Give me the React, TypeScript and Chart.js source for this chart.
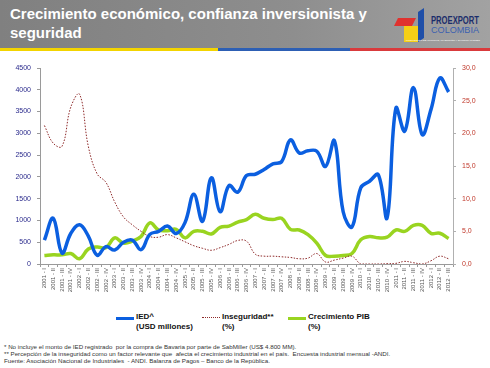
import React, { useEffect, useRef } from "react";
import { Chart, registerables } from "chart.js";
Chart.register(...registerables);

const FONT = "'Liberation Sans', Arial, sans-serif";

const quarters = [
  "2001 - I", "2001 - II", "2001 - III", "2001 - IV",
  "2002 - I", "2002 - II", "2002 - III", "2002 - IV",
  "2003 - I", "2003 - II", "2003 - III", "2003 - IV",
  "2004 - I", "2004 - II", "2004 - III", "2004 - IV",
  "2005 - I", "2005 - II", "2005 - III", "2005 - IV",
  "2006 - I", "2006 - II", "2006 - III", "2006 - IV",
  "2007 - I", "2007 - II", "2007 - III", "2007 - IV",
  "2008 - I", "2008 - II", "2008 - III", "2008 - IV",
  "2009 - I", "2009 - II", "2009 - III", "2009 - IV",
  "2010 - I", "2010 - II", "2010 - III", "2010 - IV",
  "2011 - I", "2011 - II", "2011 - III", "2011 - IV",
  "2012 - I", "2012 - II", "2012 - III",
];

const iedValues = [
  550, 1050, 250, 700, 900, 640, 200, 400, 320, 500, 550, 330,
  680, 750, 870, 700, 950, 1600, 980, 1980, 1200, 1800, 1650, 2030,
  2060, 2170, 2300, 2350, 2850, 2550, 2600, 2590, 2240, 2830, 1200, 850,
  1750, 1900, 2050, 1060, 3580, 3050, 4050, 2970, 3550, 4270, 3950,
];

const insecurityValues = [
  21.2, 18.5, 18.0, 24.0, 26.0, 18.0, 13.8, 12.5, 9.5, 7.2, 6.0, 5.0,
  4.2, 4.1, 4.5, 4.0, 3.4, 2.8, 2.4, 2.1, 2.5, 3.0, 3.6, 3.5,
  1.5, 1.2, 1.2, 1.1, 1.0, 0.8, 0.9, 1.6, 0.3, 0.6, 0.9, 1.2,
  0.0, 0.0, 0.0, 0.05, 0.1, 0.4, 0.2, 0.0, 0.5, 1.2, 0.8,
];

const gdpGrowthValues = [
  1.3, 1.4, 1.4, 1.6, 0.8, 2.3, 2.6, 2.5, 4.0, 3.2, 3.5, 4.2,
  6.3, 5.2, 5.1, 5.3, 4.0, 5.0, 5.0, 4.6, 5.6, 5.8, 6.4, 6.8,
  7.6, 7.0, 6.8, 7.0, 5.3, 5.2, 4.5, 3.2, 1.3, 1.2, 1.3, 1.6,
  3.7, 4.2, 4.0, 4.1, 5.2, 5.0, 5.9, 5.9, 4.7, 4.7, 3.9,
];

const seriesLegend = [
  { name: "IED^", unit: "(USD millones)", color: "#0b5fe0", dash: false, width: 3 },
  { name: "Inseguridad**", unit: "(%)", color: "#8e2a2a", dash: true, width: 1 },
  { name: "Crecimiento PIB", unit: "(%)", color: "#99d420", dash: false, width: 3 },
];

const footnotes = [
  "* No incluye el monto de IED registrado  por la compra de Bavaria por parte de SabMiller (US$ 4.800 MM).",
  "** Percepción de la inseguridad como un factor relevante que  afecta el crecimiento industrial en el país.  Encuesta industrial mensual -ANDI.",
  "Fuente: Asociación Nacional de Industriales  - ANDI. Balanza de Pagos – Banco de la República.",
];

export default function App() {
  const ref = useRef<HTMLCanvasElement>(null);

  useEffect(() => {
    const chart = new Chart(ref.current as HTMLCanvasElement, {
      type: "line",
      data: {
        labels: quarters,
        datasets: [
          {
            label: seriesLegend[0].name,
            data: iedValues,
            borderColor: seriesLegend[0].color,
            borderWidth: 3.5,
            yAxisID: "y",
            pointRadius: 0,
            tension: 0.4,
            fill: false,
          },
          {
            label: seriesLegend[1].name,
            data: insecurityValues,
            borderColor: seriesLegend[1].color,
            borderWidth: 1,
            borderDash: [1.5, 1.5],
            yAxisID: "y1",
            pointRadius: 0,
            tension: 0.4,
            fill: false,
          },
          {
            label: seriesLegend[2].name,
            data: gdpGrowthValues,
            borderColor: seriesLegend[2].color,
            borderWidth: 3.5,
            yAxisID: "y1",
            pointRadius: 0,
            tension: 0.4,
            fill: false,
          },
        ],
      },
      options: {
        animation: false,
        responsive: false,
        maintainAspectRatio: false,
        layout: { padding: { top: 13, left: 0, right: 0, bottom: 0 } },
        plugins: { legend: { display: false }, tooltip: { enabled: false } },
        scales: {
          x: {
            offset: true,
            grid: { offset: true, drawOnChartArea: false, tickLength: 3, color: "#9a9a9a" },
            border: { color: "#9a9a9a" },
            ticks: {
              autoSkip: false,
              maxRotation: 90,
              minRotation: 90,
              padding: 1,
              color: "#555555",
              font: { size: 6, family: FONT },
            },
            afterFit: (s: any) => {
              s.height = 46;
            },
          },
          y: {
            position: "left",
            min: 0,
            max: 4500,
            grid: { drawOnChartArea: false, tickLength: 3, color: "#9a9a9a" },
            border: { color: "#9a9a9a" },
            ticks: {
              stepSize: 500,
              padding: 6,
              color: "#2a2a8c",
              font: { size: 7, family: FONT },
              callback: (v: any) => String(v),
            },
            afterFit: (s: any) => {
              s.width = 40;
            },
          },
          y1: {
            position: "right",
            min: 0,
            max: 30,
            grid: { drawOnChartArea: false, tickLength: 3, color: "#b0b0b0" },
            border: { color: "#b0b0b0" },
            ticks: {
              stepSize: 5,
              padding: 6,
              color: "#c0392b",
              font: { size: 7, family: FONT },
              callback: (v: any) => Number(v).toFixed(1).replace(".", ","),
            },
            afterFit: (s: any) => {
              s.width = 37;
            },
          },
        },
      },
    });
    return () => chart.destroy();
  }, []);

  return (
    <div
      style={{
        position: "absolute",
        left: 0,
        top: 0,
        width: 490,
        height: 368,
        background: "#ffffff",
        overflow: "hidden",
        fontFamily: FONT,
      }}
    >
      {/* Title bar */}
      <div
        style={{
          position: "absolute",
          left: 0,
          top: 0,
          width: 490,
          height: 48,
          background: "linear-gradient(to right, #808080 0%, #8e8e8e 60%, #a2a2a2 100%)",
        }}
      />
      <div
        style={{
          position: "absolute",
          left: 10,
          top: 4,
          color: "#ffffff",
          fontWeight: "bold",
          fontSize: 15,
          lineHeight: "19px",
          fontFamily: FONT,
        }}
      >
        Crecimiento económico, confianza inversionista y
        <br />
        seguridad
      </div>
      {/* Logo */}
      <svg
        style={{ position: "absolute", left: 394, top: 6 }}
        width={90}
        height={38}
        viewBox="0 0 90 38"
      >
        <polygon points="4,12 22,12 18,20 0,20" fill="#e0322f" />
        <polygon points="10,20 24,20 24,36 10,36" fill="#f5cf16" />
        <polygon points="24,6 30,2 30,32 24,36" fill="#1f4fa8" />
        <text x="37" y="18" fontFamily={FONT} fontWeight="bold" fontSize="10" fill="#1b2d6b" textLength="48" lengthAdjust="spacingAndGlyphs">
          PROEXPORT
        </text>
        <text x="37" y="27" fontFamily={FONT} fontSize="8.5" fill="#3b5fb0" textLength="48" lengthAdjust="spacingAndGlyphs">
          COLOMBIA
        </text>
        <text x="12" y="34.5" fontFamily={FONT} fontSize="2.5" fill="#ffffff" textLength="74" lengthAdjust="spacingAndGlyphs">
          PROMOCIÓN DE TURISMO, INVERSIÓN Y EXPORTACIONES
        </text>
      </svg>
      {/* Stripes */}
      <div style={{ position: "absolute", left: 0, top: 48, width: 218, height: 3, background: "#f3d400" }} />
      <div style={{ position: "absolute", left: 218, top: 48, width: 132, height: 3, background: "#2d5fb4" }} />
      <div style={{ position: "absolute", left: 350, top: 48, width: 140, height: 3, background: "#d93a3c" }} />

      {/* Chart */}
      <canvas
        ref={ref}
        width={490}
        height={255}
        style={{ position: "absolute", left: 0, top: 55, width: 490, height: 255, display: "block" }}
      />

      {/* Legend */}
      <div
        style={{
          position: "absolute",
          left: 0,
          top: 312,
          width: 490,
          display: "flex",
          justifyContent: "center",
        }}
      >
        {seriesLegend.map((s) => (
          <div key={s.name} style={{ width: 86, display: "flex", alignItems: "flex-start" }}>
            <div
              style={{
                width: 18,
                marginTop: 5,
                marginRight: 2,
                borderTop: s.dash ? `1px dotted ${s.color}` : `${s.width}px solid ${s.color}`,
              }}
            />
            <div style={{ fontSize: 8, fontWeight: "bold", lineHeight: "9.5px", color: "#111" }}>
              {s.name}
              <br />
              {s.unit}
            </div>
          </div>
        ))}
      </div>

      {/* Footnotes */}
      <div
        style={{
          position: "absolute",
          left: 4,
          top: 343,
          fontSize: 6.2,
          lineHeight: "7.2px",
          color: "#333",
          whiteSpace: "pre",
        }}
      >
        {footnotes.map((f) => (
          <div key={f}>{f}</div>
        ))}
      </div>
    </div>
  );
}
